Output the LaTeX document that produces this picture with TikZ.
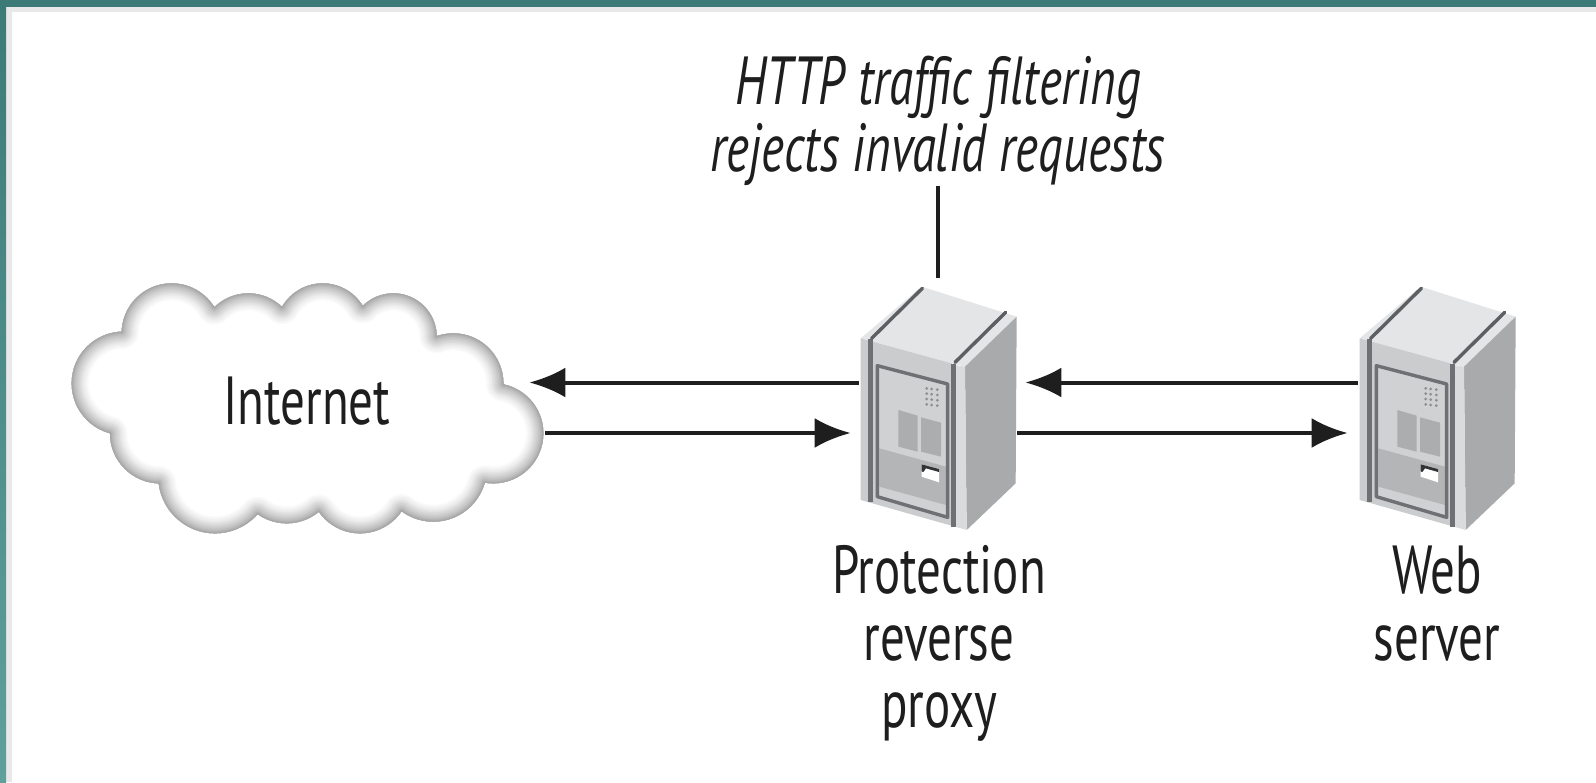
\documentclass[tikz,border=0pt]{standalone}
\usepackage{fontspec}
\setmainfont[FakeStretch=0.72]{PT Sans}
\usetikzlibrary{arrows.meta}
\definecolor{teal1}{HTML}{3C7A78}
\definecolor{teal2}{HTML}{5FA09C}
\definecolor{band}{HTML}{E8E8E8}
\definecolor{srvtop}{HTML}{E4E5E6}
\definecolor{srvfront}{HTML}{CBCCCE}
\definecolor{srvside}{HTML}{A9AAAC}
\definecolor{srvline}{HTML}{6E7073}
\definecolor{srvwin}{HTML}{ACADAF}
\definecolor{txt}{HTML}{1E1E1E}
\tikzset{
  label text/.style={font=\fontsize{34}{33.5}\selectfont, text=txt, align=center, inner sep=0pt},
  flow/.style={line width=2pt, draw=txt, -{Latex[length=18pt,width=15pt,color=txt]}},
  lead/.style={line width=2pt, draw=txt},
  anchor box/.style={inner sep=0pt, draw=none, fill=none},
  edge line/.style={draw=srvline, line width=2.2pt},
  edge diag/.style={draw=srvline!85!black, line width=1.7pt, line cap=round},
}
\newcommand{\serverart}[1]{%
\begin{scope}[shift={(#1,270)}, x=0.16667pt, y=-0.16667pt]
  \fill[srvtop] (62,205) -- (245,50) -- (530,140) -- (375,290) -- (335,280) -- cycle;
  \fill[srvfront] (62,205) -- (335,280) -- (345,770) -- (62,690) -- cycle;
  \fill[srvside] (375,290) -- (530,140) -- (527,640) -- (380,780) -- cycle;
  \fill[srvtop!60!srvfront] (345,285) -- (375,290) -- (380,780) -- (345,770) -- cycle;
  \draw[edge line] (91,208) -- (91,697);
  \draw[edge line] (340,282) -- (340,770);
  \draw[edge diag] (95,205) -- (247,55);
  \draw[edge diag] (345,277) -- (497,127);
  \fill[srvfront!90!white] (112,287) -- (323,342) -- (323,742) -- (112,680) -- cycle;
  \fill[srvwin!90!white] (118,535) -- (318,590) -- (318,705) -- (118,650) -- cycle;
  \draw[edge line, line width=1.7pt, line join=round] (112,287) -- (323,342) -- (323,742) -- (112,680) -- cycle;
  \fill[srvwin] (175,420) -- (233,437) -- (233,545) -- (175,530) -- cycle;
  \fill[srvwin] (243,442) -- (303,458) -- (303,560) -- (243,545) -- cycle;
  \fill[white] (245,583) -- (297,597) -- (297,637) -- (245,620) -- cycle;
  \fill[black!80] (245,583) -- (297,597) -- (297,606) -- (258,595) -- (250,606) -- (245,604) -- cycle;
  \foreach \cx in {260,275,292}
    \foreach \cy in {0,16,32,48}
      \fill[srvline!80] (\cx,{355+\cy+(\cx-260)*0.12}) circle[radius=4.5];
\end{scope}}
\begin{document}
\begin{tikzpicture}[x=0.5pt,y=-0.5pt]
\useasboundingbox (0,0) rectangle (1596,782);
\fill[white] (0,0) rectangle (1596,782);
\fill[band] (6,7) rectangle (12,782);
\fill[band] (6,7) rectangle (1596,12);
\shade[top color=teal1, bottom color=teal2] (0,0) rectangle (6,782);
\fill[teal1] (0,0) rectangle (1596,7);

% cloud: union of circles; soft inner edge = strokes along the outer arcs only, clipped to the union
\begin{scope}[shift={(60,270)}, x=0.16667pt, y=-0.16667pt]
  \clip
    (335,190) circle[radius=25pt] (565,215) circle[radius=24.1667pt]
    (788,180) circle[radius=23.3333pt] (1000,200) circle[radius=21.6667pt]
    (1180,340) circle[radius=25pt] (1300,490) circle[radius=25pt]
    (1120,595) circle[radius=26.6667pt] (900,640) circle[radius=25pt]
    (680,610) circle[radius=25pt] (465,620) circle[radius=28.3333pt]
    (300,490) circle[radius=25pt] (190,340) circle[radius=25.8333pt]
    (740,400) circle[radius=50pt];
  \foreach \w/\c in {17/2,15.5/4,14/6,12.5/8,11/11,9.5/14,8/17,6.5/20,5/23,3.5/27,2/31,1/34}
    \foreach \cx/\cy/\r/\px/\py/\pr/\nx/\ny/\nr in {
      335/190/150/190/340/155/565/215/145,
      565/215/145/335/190/150/788/180/140,
      788/180/140/565/215/145/1000/200/130,
      1000/200/130/788/180/140/1180/340/150,
      1180/340/150/1000/200/130/1300/490/150,
      1300/490/150/1180/340/150/1120/595/160,
      1120/595/160/1300/490/150/900/640/150,
      900/640/150/1120/595/160/680/610/150,
      680/610/150/900/640/150/465/620/170,
      465/620/170/680/610/150/300/490/150,
      300/490/150/465/620/170/190/340/155,
      190/340/155/300/490/150/335/190/150}
    {
      \pgfmathsetmacro\dn{veclen((\nx-\cx)/10,(\ny-\cy)/10)}
      \pgfmathsetmacro\an{(\dn*\dn+(\r/10)*(\r/10)-(\nr/10)*(\nr/10))/(2*\dn)}
      \pgfmathsetmacro\en{atan2(-(\ny-\cy),\nx-\cx)+acos(\an/(\r/10))}
      \pgfmathsetmacro\dp{veclen((\px-\cx)/10,(\py-\cy)/10)}
      \pgfmathsetmacro\ap{(\dp*\dp+(\r/10)*(\r/10)-(\pr/10)*(\pr/10))/(2*\dp)}
      \pgfmathsetmacro\st{atan2(-(\py-\cy),\px-\cx)-acos(\ap/(\r/10))}
      \pgfmathsetmacro\fin{\en-360*ceil((\en-\st)/360)}
      \pgfmathsetmacro\rr{\r*0.16667}
      \draw[black!\c!white, line width=\w pt, line cap=round]
        (\cx,\cy) ++(\st:\rr pt) arc[start angle=\st, end angle=\fin, radius=\rr pt];
    }
\end{scope}
\node[anchor box, minimum width=236.5pt, minimum height=125pt] (cloud) at (308.5,408.5) {};
\node[label text, anchor=base] (inet) at (307,424) {Internet};

\serverart{840}
\serverart{1339}
\node[anchor box, minimum width=79pt, minimum height=121.5pt] (proxy) at (938,408.5) {};
\node[anchor box, minimum width=79pt, minimum height=121.5pt] (web) at (1437,408.5) {};

\node[label text, anchor=base, font=\fontsize{34}{33.5}\selectfont\itshape] (filter) at (938,104) {HTTP traffic filtering};
\node[label text, anchor=base, font=\fontsize{34}{33.5}\selectfont\itshape] (filter2) at (938,171) {rejects invalid requests};
\node[label text, anchor=base] (p1) at (939,593) {Protection};
\node[label text, anchor=base] (p2) at (939,660) {reverse};
\node[label text, anchor=base] (p3) at (939,727) {proxy};
\node[label text, anchor=base] (w1) at (1437,593) {Web};
\node[label text, anchor=base] (w2) at (1437,660) {server};

\draw[lead] (filter2.south) -- ([yshift=4.5pt]proxy.north);
\draw[flow] ([yshift=13pt]proxy.west) -- ([yshift=13pt,xshift=-8pt]cloud.east);
\draw[flow] ([yshift=-12.25pt]cloud.east) -- ([yshift=-12.25pt,xshift=-4pt]proxy.west);
\draw[flow] ([yshift=13pt]web.west) -- ([yshift=13pt,xshift=4pt]proxy.east);
\draw[flow] ([yshift=-12.25pt]proxy.east) -- ([yshift=-12.25pt,xshift=-5pt]web.west);
\end{tikzpicture}
\end{document}
